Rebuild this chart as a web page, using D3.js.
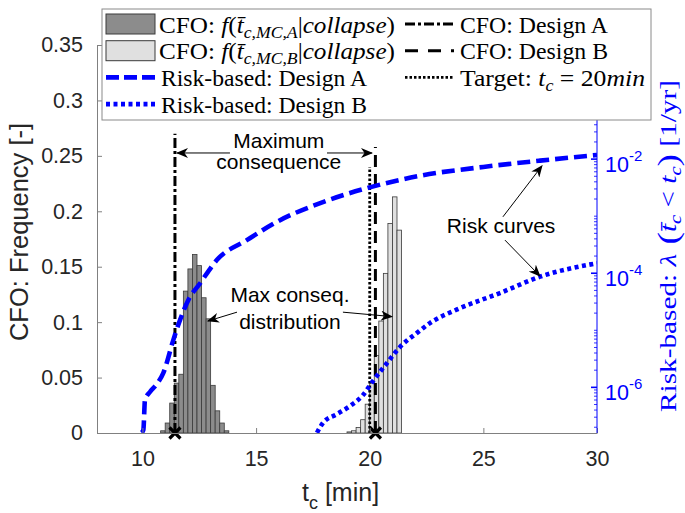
<!DOCTYPE html>
<html>
<head>
<meta charset="utf-8">
<script src="https://cdn.jsdelivr.net/npm/d3@7"></script>
<style>
  body { margin: 0; background: #fff; }
  svg { display: block; }
</style>
</head>
<body>
<svg id="chart" width="685" height="513"></svg>
<script>
// ---- data ----
const binWidth = 0.2;
const histA_left = [10.8, 11.0, 11.2, 11.4, 11.6, 11.8, 12.0, 12.2, 12.4, 12.6, 12.8, 13.0, 13.2, 13.4, 13.6];
const histA_freq = [0.002, 0.009, 0.027, 0.045, 0.053, 0.128, 0.148, 0.161, 0.151, 0.122, 0.103, 0.043, 0.020, 0.009, 0.002];
const histB_left = [19.0, 19.2, 19.4, 19.6, 19.8, 20.0, 20.2, 20.4, 20.6, 20.8, 21.0, 21.2];
const histB_freq = [0.001, 0.002, 0.005, 0.012, 0.026, 0.045, 0.070, 0.101, 0.144, 0.189, 0.213, 0.183];

// risk curves: time to collapse [min] vs annual rate [1/yr]
const riskA_t    = [9.96, 10.04, 10.11, 10.33, 10.6, 10.92, 11.36, 11.65, 12.02, 12.53, 13.27, 14.59, 15.9, 18.0, 20.0, 22.2, 25.0, 27.5, 30.0];
const riskA_rate = [1.6e-7, 1.8e-7, 6.0e-7, 8.3e-7, 1.1e-6, 1.8e-6, 6.8e-6, 1.5e-5, 3.4e-5, 6.6e-5, 1.7e-4, 3.8e-4, 7.9e-4, 1.8e-3, 3.2e-3, 5.1e-3, 7.3e-3, 9.4e-3, 1.18e-2];
const riskB_t    = [17.68, 17.94, 18.56, 19.13, 19.70, 20.14, 20.76, 21.33, 22.08, 22.65, 23.82, 25.73, 27.49, 30.0];
const riskB_rate = [1.6e-7, 2.37e-7, 3.4e-7, 4.7e-7, 7.3e-7, 1.29e-6, 2.67e-6, 5.1e-6, 9.0e-6, 1.34e-5, 2.3e-5, 4.5e-5, 8.7e-5, 1.5e-4];

// vertical reference lines: [time, top frequency]
const cfoA = [11.43, 0.27];
const cfoB = [20.25, 0.258];
const targetLine = [20, 0.24];

const xTicks = [10, 15, 20, 25, 30];
const yTicks = [0, 0.05, 0.1, 0.15, 0.2, 0.25, 0.3, 0.35];
const yTickLabels = ["0", "0.05", "0.1", "0.15", "0.2", "0.25", "0.3", "0.35"];
const rTicks = [1e-6, 1e-4, 1e-2];
const rTickExp = ["-6", "-4", "-2"];

// ---- setup ----
const svg = d3.select("#chart");
const L = 97, R = 597, T = 45, B = 433;
const sans = "'Liberation Sans', Arial, sans-serif";
const serif = "'Liberation Serif', 'Times New Roman', serif";
const axisGray = "#808080", ink = "#262626", blue = "#0000ff";

const x = d3.scaleLinear().domain([8, 30]).range([L, R]);
const y = d3.scaleLinear().domain([0, 0.35]).range([B, T]);
const yR = d3.scaleLog().domain([Math.pow(10, -6.8), 1]).range([B, T]);

const defs = svg.append("defs");
defs.append("clipPath").attr("id", "plotclip")
  .append("rect").attr("x", L).attr("y", T).attr("width", R - L).attr("height", B - T);
defs.append("marker").attr("id", "head")
  .attr("viewBox", "0 0 12 10").attr("refX", 11).attr("refY", 5)
  .attr("markerWidth", 12).attr("markerHeight", 10)
  .attr("markerUnits", "userSpaceOnUse").attr("orient", "auto")
  .append("path").attr("d", "M0,0 L12,5 L0,10 L3.5,5 Z").attr("fill", "#000");

// ---- histograms ----
function hist(left, freq, fill) {
  svg.append("g").selectAll("rect")
    .data(left.map((d, i) => ({ t: d, f: freq[i] })))
    .enter().append("rect")
    .attr("x", d => x(d.t))
    .attr("y", d => y(d.f))
    .attr("width", d => x(d.t + binWidth) - x(d.t))
    .attr("height", d => y(0) - y(d.f))
    .attr("fill", fill)
    .attr("stroke", "#3a3a3a")
    .attr("stroke-width", 0.8);
}
hist(histA_left, histA_freq, "#8c8c8c");
hist(histB_left, histB_freq, "#e0e0e0");

// ---- vertical CFO lines ----
function vline(v, dash, w) {
  svg.append("line")
    .attr("x1", x(v[0])).attr("x2", x(v[0]))
    .attr("y1", y(0)).attr("y2", y(v[1]))
    .attr("stroke", "#000").attr("stroke-width", w)
    .attr("stroke-dasharray", dash);
}
vline(cfoA, "10,3,3,3", 3);
vline(targetLine, "2.5,2", 2.8);
vline(cfoB, "12,7", 3);

// ---- risk curves ----
const riskLine = d3.line().x(d => x(d[0])).y(d => yR(d[1])).curve(d3.curveMonotoneX);
const gCurves = svg.append("g").attr("clip-path", "url(#plotclip)");
gCurves.append("path").datum(riskA_t.map((t, i) => [t, riskA_rate[i]]))
  .attr("d", riskLine).attr("fill", "none").attr("stroke", blue)
  .attr("stroke-width", 4.6).attr("stroke-dasharray", "13,6");
gCurves.append("path").datum(riskB_t.map((t, i) => [t, riskB_rate[i]]))
  .attr("d", riskLine).attr("fill", "none").attr("stroke", blue)
  .attr("stroke-width", 4.6).attr("stroke-dasharray", "4,3.5");

// ---- x markers at the maximum consequence ----
[cfoA[0], cfoB[0]].forEach(t => {
  const cx = x(t), cy = y(0), s = 5.5;
  svg.append("path")
    .attr("d", `M${cx - s},${cy - s}L${cx + s},${cy + s}M${cx - s},${cy + s}L${cx + s},${cy - s}`)
    .attr("stroke", "#000").attr("stroke-width", 3.2);
});

// ---- axes ----
const gl = svg.append("g").attr("transform", `translate(${L},0)`)
  .call(d3.axisLeft(y).tickValues(yTicks).tickSize(-5).tickSizeOuter(0).tickPadding(14)
    .tickFormat((d, i) => yTickLabels[i]));
const gb = svg.append("g").attr("transform", `translate(0,${B})`)
  .call(d3.axisBottom(x).tickValues(xTicks).tickSize(-5).tickSizeOuter(0).tickPadding(18));
[gl, gb].forEach(g => {
  g.select(".domain").attr("stroke", axisGray);
  g.selectAll(".tick line").attr("stroke", axisGray);
  g.selectAll(".tick text").attr("fill", ink).style("font-family", sans).style("font-size", "21.5px");
});

// right log axis
const gr = svg.append("g");
gr.append("line").attr("x1", R).attr("x2", R).attr("y1", T).attr("y2", B)
  .attr("stroke", blue).attr("stroke-width", 1);
const minor = [];
for (let e = -7; e <= 0; e++) for (let k = 1; k < 10; k++) {
  const v = k * Math.pow(10, e);
  if (v >= yR.domain()[0] && v <= 1) minor.push(v);
}
gr.selectAll("line.minor").data(minor).enter().append("line")
  .attr("x1", R).attr("x2", d => R - (rTicks.includes(d) ? 6 : 3))
  .attr("y1", d => yR(d)).attr("y2", d => yR(d))
  .attr("stroke", blue).attr("stroke-width", d => rTicks.includes(d) ? 1.6 : 0.8);
const rl = gr.selectAll("text.rl").data(rTicks).enter().append("text")
  .attr("x", R + 8).attr("y", d => yR(d) + 13)
  .attr("fill", blue).style("font-family", sans).style("font-size", "21.5px");
rl.append("tspan").text("10");
rl.append("tspan").attr("dy", -11).style("font-size", "15px").text((d, i) => rTickExp[i]);

// axis titles
svg.append("text")
  .attr("transform", "translate(28,232) rotate(-90)")
  .attr("text-anchor", "middle").attr("fill", ink)
  .style("font-family", sans).style("font-size", "25.5px")
  .text("CFO: Frequency [-]");

const xl = svg.append("text").attr("x", 302).attr("y", 501)
  .attr("fill", ink).style("font-family", sans).style("font-size", "25px");
xl.append("tspan").text("t");
xl.append("tspan").attr("dy", 8).style("font-size", "18px").text("c");
xl.append("tspan").attr("dy", -8).text(" [min]");

const rt = svg.append("text")
  .attr("transform", "translate(676,246) rotate(-90)")
  .attr("text-anchor", "middle").attr("fill", blue)
  .attr("textLength", 332).attr("lengthAdjust", "spacingAndGlyphs")
  .style("font-family", serif).style("font-size", "23.5px");
rt.append("tspan").text("Risk-based:  ");
rt.append("tspan").style("font-style", "italic").text("λ");
rt.append("tspan").style("font-size", "30px").attr("dy", 2).text(" (");
rt.append("tspan").attr("dy", -2).style("font-style", "italic").text("t\u0304");
rt.append("tspan").attr("dy", 5).style("font-style", "italic").style("font-size", "16.5px").text("c");
rt.append("tspan").attr("dy", -5).text(" < ");
rt.append("tspan").style("font-style", "italic").text("t");
rt.append("tspan").attr("dy", 5).style("font-style", "italic").style("font-size", "16.5px").text("c");
rt.append("tspan").attr("dy", -3).style("font-size", "30px").text(")");
rt.append("tspan").attr("dy", -2).text("  [1/yr]");

// ---- annotations (data coordinates) ----
function arrow(t1, f1, t2, f2) {
  svg.append("line")
    .attr("x1", x(t1)).attr("y1", y(f1)).attr("x2", x(t2)).attr("y2", y(f2))
    .attr("stroke", "#000").attr("stroke-width", 1)
    .attr("marker-end", "url(#head)");
}
function note(t, f, s) {
  svg.append("text").attr("x", x(t)).attr("y", y(f))
    .attr("text-anchor", "middle").attr("fill", "#000")
    .style("font-family", sans).style("font-size", "21px").text(s);
}
note(16.0, 0.257, "Maximum");
note(16.0, 0.238, "consequence");
arrow(13.85, 0.2526, 11.52, 0.2526);
arrow(18.12, 0.2526, 20.1, 0.2526);

note(16.49, 0.118, "Max conseq.");
note(16.49, 0.094, "distribution");
arrow(14.16, 0.109, 12.88, 0.101);
arrow(18.82, 0.109, 20.98, 0.105);

note(25.78, 0.180, "Risk curves");
arrow(25.86, 0.195, 27.58, 0.241);
arrow(25.95, 0.174, 27.49, 0.1416);

// ---- legend ----
const lg = svg.append("g");
lg.append("rect").attr("x", 102).attr("y", 9).attr("width", 549).attr("height", 111)
  .attr("fill", "#fff").attr("stroke", "#8a8a8a").attr("stroke-width", 1);
const rowY = i => 24 + i * 26.7;

function legText(xp, i, len) {
  return lg.append("text").attr("x", xp).attr("y", rowY(i) + 8.5)
    .attr("textLength", len).attr("lengthAdjust", "spacingAndGlyphs")
    .attr("fill", "#000").style("font-family", serif).style("font-size", "23.5px");
}
function cfoTerm(i, sub) {
  const t = legText(159, i, 236);
  t.append("tspan").text("CFO:  ");
  t.append("tspan").style("font-style", "italic").text("f");
  t.append("tspan").text("(");
  t.append("tspan").style("font-style", "italic").text("t\u0304");
  t.append("tspan").attr("dy", 5).style("font-style", "italic").style("font-size", "16.5px").text(sub);
  t.append("tspan").attr("dy", -5).text("|");
  t.append("tspan").style("font-style", "italic").text("collapse");
  t.append("tspan").text(")");
}
lg.append("rect").attr("x", 106).attr("y", rowY(0) - 10).attr("width", 49).attr("height", 20)
  .attr("fill", "#8c8c8c").attr("stroke", "#3a3a3a");
cfoTerm(0, "c,MC,A");
lg.append("rect").attr("x", 106).attr("y", rowY(1) - 10).attr("width", 49).attr("height", 20)
  .attr("fill", "#e0e0e0").attr("stroke", "#3a3a3a");
cfoTerm(1, "c,MC,B");

function legLine(x1, i, color, w, dash) {
  lg.append("line").attr("x1", x1).attr("x2", x1 + 49)
    .attr("y1", rowY(i)).attr("y2", rowY(i))
    .attr("stroke", color).attr("stroke-width", w).attr("stroke-dasharray", dash);
}
legLine(106, 2, blue, 4.6, "13,5");
legText(161, 2, 206).text("Risk-based:  Design A");
legLine(106, 3, blue, 4.6, "4,3.5");
legText(161, 3, 206).text("Risk-based:  Design B");

legLine(405, 0, "#000", 3, "10,3,3,3");
legText(460, 0, 148).text("CFO:  Design A");
legLine(405, 1, "#000", 3, "13,10");
legText(460, 1, 148).text("CFO:  Design B");
legLine(405, 2, "#000", 2.8, "2.5,2");
const tg = legText(460, 2, 185);
tg.append("tspan").text("Target:  ");
tg.append("tspan").style("font-style", "italic").text("t");
tg.append("tspan").attr("dy", 5).style("font-style", "italic").style("font-size", "16.5px").text("c");
tg.append("tspan").attr("dy", -5).text(" = 20");
tg.append("tspan").style("font-style", "italic").text("min");
</script>
</body>
</html>
